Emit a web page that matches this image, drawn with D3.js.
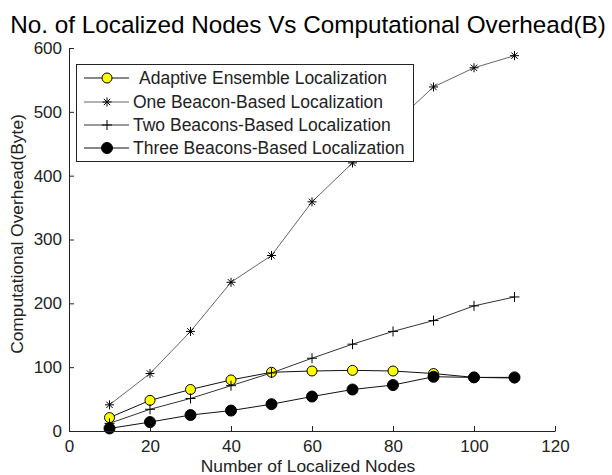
<!DOCTYPE html>
<html>
<head>
<style>
body { margin: 0; background: #fff; }
text { font-family: 'Liberation Sans', Arial, sans-serif; fill: #222; }
</style>
</head>
<body>
<svg id='chart'></svg>
<script src="https://d3js.org/d3.v7.min.js"></script>
<script>
var W = 612, H = 475;

var nodes = [10, 20, 30, 40, 50, 60, 70, 80, 90, 100, 110];
var adaptive = [21, 48, 65, 80, 92, 94, 95, 94, 90, 84, 83];
var oneBeacon = [41, 90, 156, 233, 275, 359, 420, 480, 539, 569, 588];
var twoBeacons = [12, 34, 51, 71, 91, 114, 136, 156, 173, 196, 210];
var threeBeacons = [4, 14, 25, 32, 42, 54, 65, 72, 85, 84, 84];
var xTicks = [0, 20, 40, 60, 80, 100, 120];
var yTicks = [0, 100, 200, 300, 400, 500, 600];
var seriesNames = ['Adaptive Ensemble Localization', 'One Beacon-Based Localization',
	'Two Beacons-Based Localization', 'Three Beacons-Based Localization'];

var x = d3.scaleLinear().domain([0, 120]).range([69, 555]);
var y = d3.scaleLinear().domain([0, 600]).range([431, 48]);

var svg = d3.select('#chart').attr('width', W).attr('height', H);

// marker drawing, one per series
function drawMarker(g, kind) {
	if (kind == 'yellow' || kind == 'black') {
		g.append('circle')
			.attr('r', kind == 'yellow' ? 5 : 5.5)
			.style('fill', kind == 'yellow' ? '#ffff00' : '#000')
			.style('stroke', '#000')
			.style('stroke-width', 1);
	} else if (kind == 'star') {
		var s = 4.5, d = 3.2;
		g.append('path')
			.attr('d', 'M' + (-s) + ',0 L' + s + ',0 M0,' + (-s) + ' L0,' + s +
				' M' + (-d) + ',' + (-d) + ' L' + d + ',' + d + ' M' + (-d) + ',' + d + ' L' + d + ',' + (-d))
			.style('stroke', '#000').style('stroke-width', 1).style('fill', 'none');
	} else {
		var p = 5;
		g.append('path')
			.attr('d', 'M' + (-p) + ',0 L' + p + ',0 M0,' + (-p) + ' L0,' + p)
			.style('stroke', '#000').style('stroke-width', 1).style('fill', 'none');
	}
}

var series = [
	{ name: seriesNames[0], values: adaptive, marker: 'yellow', color: '#111' },
	{ name: seriesNames[1], values: oneBeacon, marker: 'star', color: '#666' },
	{ name: seriesNames[2], values: twoBeacons, marker: 'plus', color: '#333' },
	{ name: seriesNames[3], values: threeBeacons, marker: 'black', color: '#111' }
];

var line = d3.line()
	.x(function(d, i) { return x(nodes[i]); })
	.y(function(d) { return y(d); });

series.forEach(function(s) {
	svg.append('path')
		.attr('d', line(s.values))
		.style('fill', 'none')
		.style('stroke', s.color)
		.style('stroke-width', 1);
	s.values.forEach(function(v, i) {
		var g = svg.append('g').attr('transform', 'translate(' + x(nodes[i]) + ',' + y(v) + ')');
		drawMarker(g, s.marker);
	});
});

// axes, ticks pointing inward
var xAxis = d3.axisBottom(x).tickValues(xTicks).tickSizeInner(-5).tickSizeOuter(0).tickPadding(9);
var yAxis = d3.axisLeft(y).tickValues(yTicks).tickSizeInner(-5).tickSizeOuter(0).tickPadding(7);

var gx = svg.append('g').attr('transform', 'translate(0,' + y(0) + ')').call(xAxis);
var gy = svg.append('g').attr('transform', 'translate(' + x(0) + ',0)').call(yAxis);

[gx, gy].forEach(function(g) {
	g.selectAll('path, line').style('stroke', '#222').style('stroke-width', 1);
	g.selectAll('text').style('font-size', '17px').style('fill', '#222')
		.style('font-family', "'Liberation Sans', Arial, sans-serif");
});

// titles
svg.append('text')
	.attr('x', 308).attr('y', 33)
	.attr('text-anchor', 'middle')
	.style('font-size', '24.3px')
	.style('fill', '#000')
	.text('No. of Localized Nodes Vs Computational Overhead(B)');

svg.append('text')
	.attr('x', 308).attr('y', 472)
	.attr('text-anchor', 'middle')
	.style('font-size', '17.4px')
	.text('Number of Localized Nodes');

svg.append('text')
	.attr('transform', 'translate(23,234) rotate(-90)')
	.attr('text-anchor', 'middle')
	.style('font-size', '17.4px')
	.text('Computational Overhead(Byte)');

// legend
var legend = svg.append('g');
legend.append('rect')
	.attr('x', 76.5).attr('y', 64.5)
	.attr('width', 337).attr('height', 97)
	.style('fill', '#fff').style('stroke', '#222').style('stroke-width', 1);

var rowY = [78, 102, 125, 148];
series.forEach(function(s, i) {
	legend.append('line')
		.attr('x1', 84).attr('x2', 129)
		.attr('y1', rowY[i]).attr('y2', rowY[i])
		.style('stroke', s.color).style('stroke-width', 1);
	var g = legend.append('g').attr('transform', 'translate(107,' + rowY[i] + ')');
	drawMarker(g, s.marker);
	legend.append('text')
		.attr('x', i == 0 ? 139 : 133).attr('y', rowY[i] + 6)
		.style('font-size', '17.5px')
		.text(s.name);
});
</script>
</body>
</html>
